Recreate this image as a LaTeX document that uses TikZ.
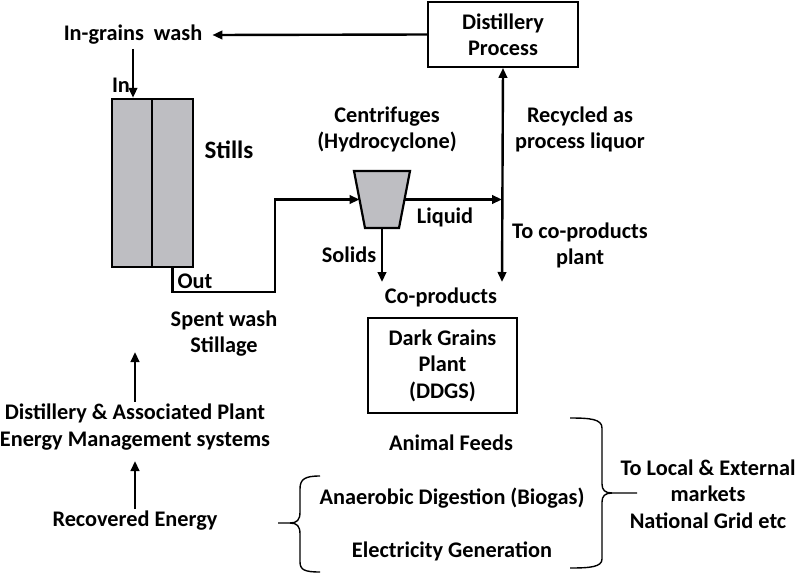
\documentclass[tikz,border=0pt]{standalone}
\usepackage{fontspec}
\setmainfont{Carlito}
\usetikzlibrary{arrows.meta}
\definecolor{stillgray}{RGB}{190,190,194}
\tikzset{
  lbl/.style={font=\fontsize{22.3}{26.5}\selectfont\bfseries, align=center, inner sep=2pt},
  arr/.style={line width=2.4pt, -{Triangle[length=10pt,width=8.5pt]}},
  darr/.style={line width=2.4pt, {Triangle[length=10pt,width=8.5pt]}-{Triangle[length=10pt,width=8.5pt]}},
  plainbox/.style={draw, line width=1.8pt, inner sep=0pt, align=center, font=\fontsize{22.3}{26.5}\selectfont\bfseries},
  stillbox/.style={draw, fill=stillgray, line width=2.4pt, inner sep=0pt},
  brace/.style={line width=1.4pt}
}
\begin{document}
\begin{tikzpicture}[x=1pt,y=-1pt]
\useasboundingbox (0,0) rectangle (800,576);
% top
\node[lbl] (ig) at (133,35) {In-grains\ \ wash};
\node[plainbox, minimum width=150pt, minimum height=65pt] (dp) at (503,34.5) {Distillery\\Process};
\draw[arr] (dp.west) -- ([xshift=8pt]ig.east);
% stills
\node[stillbox, minimum width=40pt, minimum height=168pt] (s1) at (132,183) {};
\node[stillbox, minimum width=41pt, minimum height=168pt] (s2) at (172.5,183) {};
\node[lbl] (inl) at (121,85) {In};
\draw[arr] ([yshift=-2pt]ig.south) -- (ig.south |- s1.north);
\node[lbl, font=\fontsize{25}{30}\selectfont\bfseries] (st) at (229,150) {Stills};
\node[lbl] (out) at (195,281) {Out};
\node[lbl] (sw) at (224,333.5) {Spent wash\\Stillage};
% centrifuge
\draw[fill=stillgray, line width=2.2pt, line join=miter] (354,171) -- (410,171) -- (399,228) -- (365,228) -- cycle;
\coordinate (cfw) at (359.5,199.5);
\coordinate (cfe) at (404.5,199.5);
\coordinate (cfs) at (382,228);
\node[lbl] (cfl) at (387,129.5) {Centrifuges\\(Hydrocyclone)};
\draw[arr] (s2.south) |- (275,292) |- (cfw);
\coordinate (vbot) at (502,282);
\draw[darr] (dp.south) -- (vbot);
\draw[arr] (cfe) -- (cfe -| vbot);
\coordinate (sbot) at (cfs |- 0,282);
\draw[arr] (cfs) -- (sbot);
\node[lbl] (liq) at (445,217) {Liquid};
\node[lbl] (sol) at (349,255) {Solids};
\node[lbl] (rec) at (580,129.5) {Recycled as\\process liquor};
\node[lbl] (tcp) at (580,245.5) {To co-products\\plant};
\node[lbl] (cop) at (441,297) {Co-products};
\node[plainbox, minimum width=149pt, minimum height=95pt] (dg) at (442.5,365.5) {Dark Grains\\Plant\\(DDGS)};
% bottom
\node[lbl] (af) at (451,443) {Animal Feeds};
\node[lbl] (ad) at (452,498) {Anaerobic Digestion (Biogas)};
\node[lbl] (eg) at (452,551) {Electricity Generation};
\node[lbl] (dam) at (135,427) {Distillery \& Associated Plant\\Energy Management systems};
\node[lbl] (re) at (135,521) {Recovered Energy};
\coordinate (up1) at (135,352);
\coordinate (up2) at (135,461);
\draw[arr] (dam.north) -- (up1);
\draw[arr] (re.north) -- (up2);
\node[lbl] (mk) at (708,494) {To Local \& External\\markets\\National Grid etc};
% braces
\draw[brace] (320,476) .. controls (305,476) and (300,479) .. (300,489) -- (300,512)
  .. controls (300,520) and (297,523) .. (290,523) -- (278,523);
\draw[brace] (290,523) .. controls (297,523) and (300,526) .. (300,534) -- (300,562)
  .. controls (300,570) and (305,572) .. (320,572);
\draw[brace] (570,418) .. controls (590,418) and (602,419) .. (602,428) -- (602,484)
  .. controls (602,490) and (605,493) .. (612,493) -- (637,493);
\draw[brace] (612,493) .. controls (605,493) and (602,496) .. (602,502) -- (602,559)
  .. controls (602,567) and (590,568) .. (570,568);
\end{tikzpicture}
\end{document}
